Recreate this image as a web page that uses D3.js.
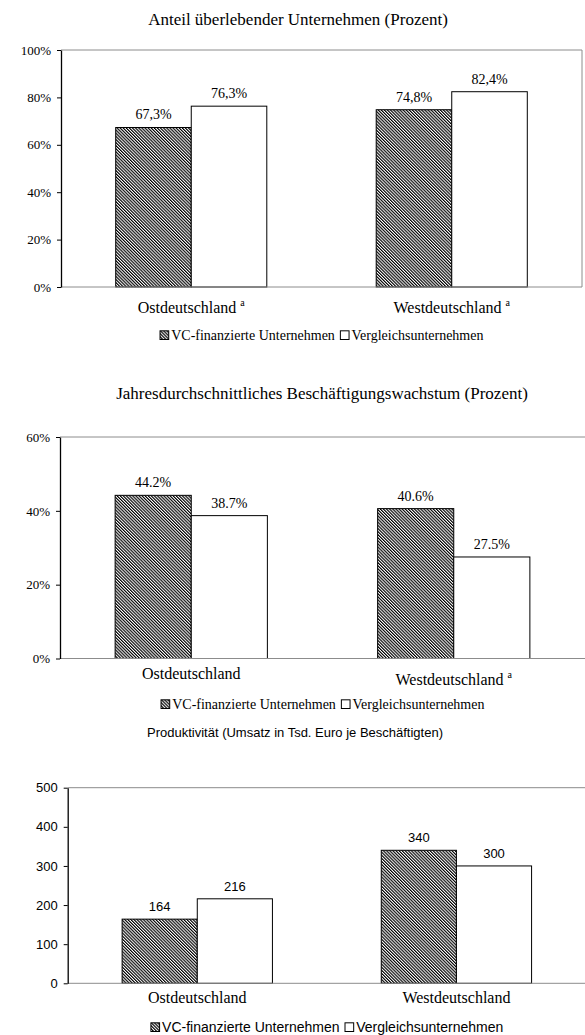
<!DOCTYPE html>
<html>
<head>
<meta charset="utf-8">
<script src="https://cdn.jsdelivr.net/npm/d3@7"></script>
<style>
    body { margin: 0; background: #fff; }
    svg { display: block; }
</style>
</head>
<body>
<div id="chart"></div>
<script>
// data
const categories = ['Ostdeutschland', 'Westdeutschland'];
const seriesNames = ['VC-finanzierte Unternehmen', 'Vergleichsunternehmen'];

// Anteil überlebender Unternehmen (Prozent)
const survivalVC = [67.3, 74.8];
const survivalComp = [76.3, 82.4];
const survivalTicks = [0, 20, 40, 60, 80, 100];
const survivalNotes = ['a', 'a'];

// Jahresdurchschnittliches Beschäftigungswachstum (Prozent)
const growthVC = [44.2, 40.6];
const growthComp = [38.7, 27.5];
const growthTicks = [0, 20, 40, 60];
const growthNotes = ['', 'a'];

// Produktivität (Umsatz in Tsd. Euro je Beschäftigten)
const prodVC = [164, 340];
const prodComp = [216, 300];
const prodTicks = [0, 100, 200, 300, 400, 500];
const prodNotes = ['', ''];

const W = 585, H = 1035;
const serif = "'Liberation Serif', 'Times New Roman', serif";
const sans = "'Liberation Sans', Arial, sans-serif";

const deFmt = d3.formatLocale({decimal: ',', thousands: '.', grouping: [3], currency: ['', ' €']});

let svg = d3.select('#chart').append('svg')
    .attr('width', W)
    .attr('height', H);

// hatch pattern for the VC bars
let defs = svg.append('defs');
let pat = defs.append('pattern')
    .attr('id', 'hatch')
    .attr('patternUnits', 'userSpaceOnUse')
    .attr('width', 2.2)
    .attr('height', 8)
    .attr('patternTransform', 'rotate(-45)');
pat.append('rect').attr('width', 2.2).attr('height', 8).attr('fill', '#fff');
pat.append('rect').attr('width', 1.15).attr('height', 8).attr('fill', '#000');

drawChart({
    title: 'Anteil überlebender Unternehmen (Prozent)',
    vc: survivalVC, comp: survivalComp, ticks: survivalTicks, notes: survivalNotes,
    tickFmt: d => d + '%',
    valFmt: d => deFmt.format('.1f')(d) + '%',
    left: 61, right: 582, top: 50, bottom: 287, rightBorder: true,
    titleX: 298, titleY: 25, legendY: 340,
    font: serif, titleSize: 17, tickSize: 13, valSize: 14, legendSize: 14
});

drawChart({
    title: 'Jahresdurchschnittliches Beschäftigungswachstum (Prozent)',
    vc: growthVC, comp: growthComp, ticks: growthTicks, notes: growthNotes,
    tickFmt: d => d + '%',
    valFmt: d => d3.format('.1f')(d) + '%',
    left: 60, right: 585, top: 437, bottom: 658.5, rightBorder: false,
    titleX: 322, titleY: 399, legendY: 709,
    font: serif, titleSize: 17, tickSize: 13, valSize: 14, legendSize: 14
});

drawChart({
    title: 'Produktivität (Umsatz in Tsd. Euro je Beschäftigten)',
    vc: prodVC, comp: prodComp, ticks: prodTicks, notes: prodNotes,
    tickFmt: d => d,
    valFmt: d => d,
    left: 67.7, right: 586, top: 787.7, bottom: 983.3, rightBorder: false,
    titleX: 295, titleY: 737, legendY: 1032,
    font: sans, titleSize: 13, tickSize: 13, valSize: 13, legendSize: 14
});

function drawChart(c) {
    let g = svg.append('g');

    let x0 = d3.scaleBand()
        .domain(categories)
        .range([c.left, c.right])
        .paddingInner(0.42)
        .paddingOuter(0.21);

    let x1 = d3.scaleBand()
        .domain(seriesNames)
        .range([0, x0.bandwidth()]);

    let y = d3.scaleLinear()
        .domain([0, d3.max(c.ticks)])
        .range([c.bottom, c.top]);

    // title
    g.append('text')
        .attr('x', c.titleX)
        .attr('y', c.titleY)
        .attr('text-anchor', 'middle')
        .style('font-family', c.font)
        .style('font-size', c.titleSize + 'px')
        .text(c.title);

    // frame lines (top, bottom, maybe right)
    g.append('line')
        .attr('x1', c.left).attr('x2', c.right)
        .attr('y1', y(d3.max(c.ticks))).attr('y2', y(d3.max(c.ticks)))
        .attr('stroke', '#8c8c8c').attr('stroke-width', 1);
    if (c.rightBorder) {
        g.append('line')
            .attr('x1', c.right).attr('x2', c.right)
            .attr('y1', c.top).attr('y2', c.bottom)
            .attr('stroke', '#8c8c8c').attr('stroke-width', 1);
    }

    // bars
    let rows = categories.map((cat, i) => ({cat: cat, vals: [c.vc[i], c.comp[i]]}));
    let groups = g.selectAll('.grp')
        .data(rows)
        .join('g')
        .attr('transform', d => `translate(${x0(d.cat)},0)`);

    groups.selectAll('rect')
        .data(d => d.vals.map((v, j) => ({key: seriesNames[j], v: v})))
        .join('rect')
        .attr('x', d => x1(d.key))
        .attr('y', d => y(d.v))
        .attr('width', x1.bandwidth())
        .attr('height', d => y(0) - y(d.v))
        .attr('fill', d => d.key === seriesNames[0] ? 'url(#hatch)' : '#fff')
        .attr('stroke', '#000')
        .attr('stroke-width', 1);

    groups.selectAll('.val')
        .data(d => d.vals.map((v, j) => ({key: seriesNames[j], v: v})))
        .join('text')
        .attr('x', d => x1(d.key) + x1.bandwidth() / 2)
        .attr('y', d => y(d.v) - 8)
        .attr('text-anchor', 'middle')
        .style('font-family', c.font)
        .style('font-size', c.valSize + 'px')
        .text(d => c.valFmt(d.v));

    // bottom axis line
    g.append('line')
        .attr('x1', c.left).attr('x2', c.right)
        .attr('y1', c.bottom).attr('y2', c.bottom)
        .attr('stroke', '#8c8c8c').attr('stroke-width', 1);

    // y axis
    let yAxis = g.append('g')
        .attr('transform', `translate(${c.left},0)`)
        .call(d3.axisLeft(y).tickValues(c.ticks).tickFormat(c.tickFmt)
            .tickSize(4).tickSizeOuter(0).tickPadding(6));
    yAxis.select('.domain').attr('stroke', '#000').attr('stroke-width', 1.3);
    yAxis.selectAll('.tick line').attr('stroke', '#000');
    yAxis.selectAll('.tick text')
        .attr('fill', '#000')
        .style('font-family', c.font)
        .style('font-size', c.tickSize + 'px');

    // category labels (serif in every panel)
    categories.forEach(function(cat, i) {
        let note = c.notes[i];
        let t = g.append('text')
            .attr('x', x0(cat) + x0.bandwidth() / 2)
            .attr('y', c.bottom + 20 + (note ? 6 : 0))
            .attr('text-anchor', 'middle')
            .style('font-family', serif)
            .style('font-size', '16px');
        t.append('tspan').text(cat);
        if (note) {
            t.append('tspan').text('\u00a0');
            t.append('tspan')
                .attr('dy', -7)
                .style('font-size', '10px')
                .text(note);
        }
    });

    // legend, centred under the plot
    let leg = g.append('g');
    let cx = 0;
    seriesNames.forEach(function(name, j) {
        let sz = c.legendSize * 0.62;
        leg.append('rect')
            .attr('x', cx + 0.5)
            .attr('y', -sz - 0.5)
            .attr('width', sz)
            .attr('height', sz)
            .attr('fill', j === 0 ? 'url(#hatch)' : '#fff')
            .attr('stroke', '#000')
            .attr('stroke-width', 1);
        cx += sz + 3;
        let t = leg.append('text')
            .attr('x', cx)
            .attr('y', 0)
            .style('font-family', c.font)
            .style('font-size', c.legendSize + 'px')
            .text(name);
        cx += t.node().getComputedTextLength() + 5;
    });
    let legW = cx - 5;
    leg.attr('transform', `translate(${(c.left + c.right) / 2 - legW / 2},${c.legendY})`);
}
</script>
</body>
</html>
